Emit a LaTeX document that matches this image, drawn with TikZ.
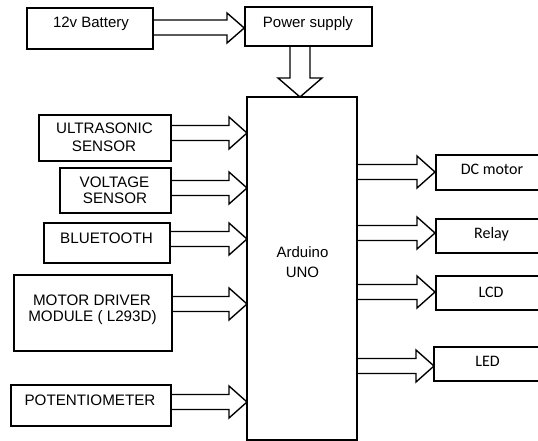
\documentclass[tikz,border=0pt]{standalone}
\usepackage{fontspec}
\setmainfont{Liberation Sans}
\newfontfamily\calib{Carlito}
\begin{document}
\begin{tikzpicture}[x=1pt,y=-1pt,
  blk/.style={draw,line width=1.5pt,rectangle},
  barrow/.style={draw,line width=1.4pt,line join=miter},
  lt/.style={anchor=base,font=\fontsize{15.2}{18}\selectfont,inner sep=0pt},
  tt/.style={anchor=base,font=\fontsize{15}{18}\selectfont,inner sep=0pt},
  rt/.style={anchor=base,font=\calib\fontsize{16}{19}\selectfont,inner sep=0pt}]
\clip (0,0) rectangle (538,441);
\fill[white] (0,0) rectangle (538,441);
% boxes
\newcommand\bx[5]{\node[blk,minimum width={#4-#2},minimum height={#5-#3},inner sep=0pt] (#1) at ({(#2+#4)/2},{(#3+#5)/2}) {};}
\bx{bat}{27}{8}{153}{49}
\bx{ps}{245}{7}{372}{46}
\bx{ard}{247}{97}{357}{440}
\bx{us}{39}{115}{171}{161}
\bx{volt}{60}{168}{171}{213}
\bx{bt}{44}{223}{170}{263}
\bx{md}{14}{275}{172}{351}
\bx{pot}{11}{385}{171}{426}
\bx{dc}{436}{155}{560}{190}
\bx{relay}{436}{219}{560}{253}
\bx{lcd}{436}{276}{560}{310}
\bx{led}{434}{347}{560}{381}
% texts
\node[tt] (tbat) at (91,28) {12v Battery};
\node[tt] (tps) at (308,28) {Power supply};
\node[lt] (tus1) at (104.5,134) {ULTRASONIC};
\node[lt] (tus2) at (104,152) {SENSOR};
\node[lt] (tv1) at (114.5,187) {VOLTAGE};
\node[lt] (tv2) at (115,203) {SENSOR};
\node[lt] (tbt) at (106.5,243) {BLUETOOTH};
\node[lt] (tmd1) at (92,305) {MOTOR DRIVER};
\node[lt] (tmd2) at (92.5,321) {MODULE ( L293D)};
\node[lt] (tpot) at (90,405) {POTENTIOMETER};
\node[tt] (tard1) at (302.5,257) {Arduino};
\node[tt] (tard2) at (302.5,277) {UNO};
\node[rt] (tdc) at (492,175) {DC motor};
\node[rt] (trel) at (491.5,238) {Relay};
\node[rt] (tlcd) at (491,297) {LCD};
\node[rt] (tled) at (487.5,366) {LED};
% block arrows: #1 x start, #2 x tip, #3 y mid
\newcommand\rarrow[3]{\draw[barrow] (#1,#3-7.5) -- (#2-18,#3-7.5) -- (#2-18,#3-16) -- (#2,#3) -- (#2-18,#3+16) -- (#2-18,#3+7.5) -- (#1,#3+7.5);}
\draw[barrow] (bat.east |- 0,20) -- (227,20) -- (227,13) -- (ps.west |- 0,28) -- (227,43) -- (227,35) -- (bat.east |- 0,35);
\draw[barrow] (290,46) -- (290,78) -- (278,78) -- (300,97) -- (322,78) -- (310,78) -- (310,46);
\rarrow{171}{247}{133}
\rarrow{171}{247}{188}
\rarrow{170}{247}{239}
\rarrow{172}{247}{304}
\rarrow{171}{247}{402}
\rarrow{357}{435}{172}
\rarrow{356}{435}{233}
\rarrow{356}{435}{292}
\rarrow{356}{434}{366}
\end{tikzpicture}
\end{document}
